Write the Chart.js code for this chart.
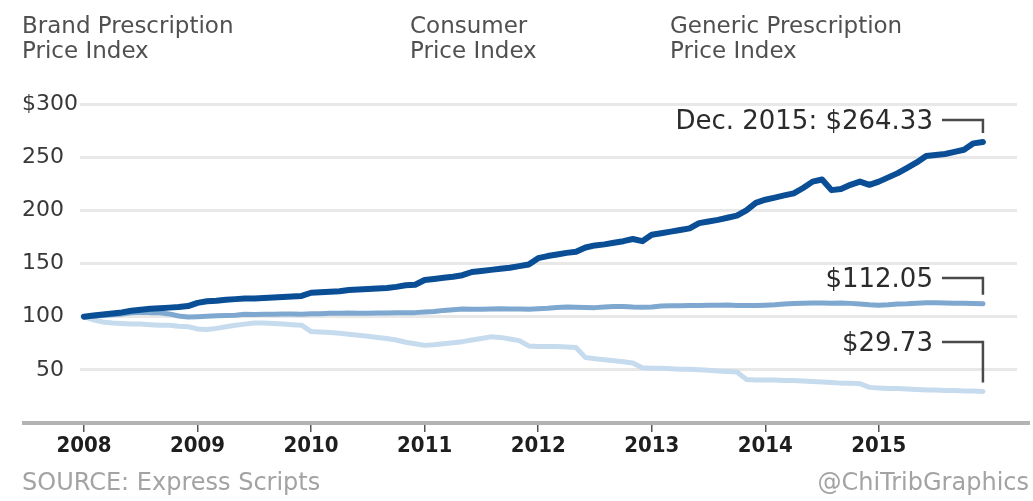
<!DOCTYPE html>
<html>
<head>
<meta charset="utf-8">
<script src="https://cdn.jsdelivr.net/npm/chart.js"></script>
<style>
  body { margin: 0; background: #fff; }
  .wrap { position: relative; width: 1033px; height: 501px; overflow: hidden; }
  .wrap canvas { position: absolute; left: 0; top: 0; }
  .head {
    position: absolute; top: 13px;
    font-family: 'DejaVu Sans', sans-serif; font-size: 23px; line-height: 25px;
    color: #505050; white-space: nowrap;
  }
  .foot {
    position: absolute; top: 468px;
    font-family: 'DejaVu Sans', sans-serif; font-size: 24px; line-height: 28px;
    color: #a3a3a3; white-space: nowrap;
  }
</style>
</head>
<body>
<div class="wrap">
  <canvas id="chart" width="1033" height="501"></canvas>
  <div class="head" style="left:22px">Brand Prescription<br>Price Index</div>
  <div class="head" style="left:410px">Consumer<br>Price Index</div>
  <div class="head" style="left:670px">Generic Prescription<br>Price Index</div>
  <div class="foot" style="left:22px">SOURCE: Express Scripts</div>
  <div class="foot" style="right:4px">@ChiTribGraphics</div>
</div>

<script>
// ==========================
// DATA (monthly, Jan 2008 = 100)
// ==========================
const years = ['2008', '2009', '2010', '2011', '2012', '2013', '2014', '2015'];

const brandIndex = [
  100, 101, 102, 103, 104, 105.5, 106.5, 107.5, 108, 108.5, 109, 110,
  113, 114.5, 115, 116, 116.5, 117, 117, 117.5, 118, 118.5, 119, 119.5,
  122.5, 123, 123.5, 124, 125, 125.5, 126, 126.5, 127, 128, 129.5, 130,
  134.5, 135.5, 136.5, 137.5, 139, 142, 143, 144, 145, 146, 147.5, 149,
  155, 157, 158.5, 160, 161, 165, 167, 168, 169.5, 171, 173, 171,
  177, 178.5, 180, 181.5, 183, 188, 189.5, 191, 193, 195, 200, 207,
  210, 212, 214, 216, 221, 227, 229, 219, 220, 224, 227, 224,
  227, 231, 235, 240, 245, 251, 252, 253, 255, 257, 263, 264.33
];

const cpiIndex = [
  100, 100.3, 101.2, 101.8, 102.6, 103.7, 104.2, 103.8, 103.7, 102.6, 100.6, 99.6,
  100, 100.5, 100.8, 101, 101.3, 102.2, 102, 102.3, 102.3, 102.4, 102.5, 102.3,
  102.7, 102.7, 103.1, 103.3, 103.4, 103.3, 103.3, 103.4, 103.5, 103.6, 103.7, 103.8,
  104.3, 104.8, 105.9, 106.6, 107.1, 106.9, 107, 107.3, 107.5, 107.3, 107.2, 106.9,
  107.4, 107.9, 108.7, 109, 108.9, 108.7, 108.5, 109.1, 109.6, 109.6, 109.1, 108.8,
  109.1, 110, 110.3, 110.2, 110.4, 110.6, 110.7, 110.8, 110.9, 110.6, 110.4, 110.4,
  110.8, 111.2, 111.9, 112.3, 112.7, 112.9, 112.9, 112.7, 112.8, 112.5, 111.9, 111.2,
  110.7, 111.2, 111.9, 112.1, 112.7, 113.1, 113.1, 112.9, 112.7, 112.7, 112.4, 112.05
];

const genericIndex = [
  100, 97, 95, 94, 93.5, 93, 93, 92.5, 92, 92, 91, 90.5,
  88.5, 88, 89, 90.5, 92, 93, 94, 94, 93.5, 93, 92.5, 92,
  86, 85.5, 85, 84.5, 83.5, 82.5, 81.5, 80.5, 79.5, 78, 76, 74.5,
  73, 73.5, 74.5, 75.5, 76.5, 78, 79.5, 81, 80.5, 79, 77.5, 72.5,
  72, 72, 72, 71.5, 71, 61.5, 60.5, 59.5, 58.5, 57.5, 56.5, 52,
  51.5, 51.5, 51, 50.5, 50.5, 50, 49.5, 49, 48.5, 48, 41, 40.5,
  40.5, 40.5, 40, 40, 39.5, 39, 38.5, 38, 37.5, 37.5, 37, 33.5,
  33, 32.5, 32.5, 32, 31.5, 31, 31, 30.5, 30.5, 30, 30, 29.73
];

const endLabels = ['Dec. 2015: $264.33', '$112.05', '$29.73'];

// month number -> point
const toPoints = (arr) => arr.map((v, i) => ({ x: i, y: v }));

// ==========================
// baseline + end-of-line notes
// ==========================
const endNotes = {
  id: 'endNotes',
  beforeDatasetsDraw(chart) {
    const { ctx } = chart;
    const y0 = chart.scales.y.getPixelForValue(0);
    ctx.save();
    ctx.strokeStyle = '#b3b3b3';
    ctx.lineWidth = 4;
    ctx.beginPath();
    ctx.moveTo(22, y0);
    ctx.lineTo(chart.width - 3, y0);
    ctx.stroke();
    ctx.restore();
  },
  afterDatasetsDraw(chart, args, opts) {
    const { ctx } = chart;
    const y = chart.scales.y;
    ctx.save();
    ctx.font = '26px "DejaVu Sans", sans-serif';
    ctx.fillStyle = '#2b2b2b';
    ctx.strokeStyle = '#4a4a4a';
    ctx.lineWidth = 2.5;
    ctx.textAlign = 'right';
    ctx.textBaseline = 'middle';
    chart.data.datasets.forEach((ds, i) => {
      const meta = chart.getDatasetMeta(i);
      const last = meta.data[meta.data.length - 1];
      const ly = y.getPixelForValue(opts.at[i]);
      ctx.fillText(endLabels[i], last.x - 50, ly);
      ctx.beginPath();
      ctx.moveTo(last.x - 41, ly - 2);
      ctx.lineTo(last.x, ly - 2);
      ctx.lineTo(last.x, last.y - 9);
      ctx.stroke();
    });
    ctx.restore();
  }
};

new Chart(document.getElementById('chart'), {
  type: 'line',
  data: {
    datasets: [
      { label: 'Brand Prescription Price Index', data: toPoints(brandIndex), borderColor: '#0a4e95', borderWidth: 6 },
      { label: 'Consumer Price Index', data: toPoints(cpiIndex), borderColor: '#7ea8cf', borderWidth: 5 },
      { label: 'Generic Prescription Price Index', data: toPoints(genericIndex), borderColor: '#c6dbee', borderWidth: 5 }
    ]
  },
  options: {
    responsive: false,
    animation: false,
    layout: { padding: { left: 22, top: 104, right: 16, bottom: 0 } },
    elements: {
      point: { radius: 0 },
      line: { tension: 0, borderJoinStyle: 'round', borderCapStyle: 'round' }
    },
    plugins: {
      legend: { display: false },
      tooltip: { enabled: false },
      endNotes: { at: [283, 134.5, 74.3] }
    },
    scales: {
      x: {
        type: 'linear',
        min: -0.42,
        max: 98.6,
        afterBuildTicks: (axis) => { axis.ticks = years.map((_, i) => ({ value: i * 12 })); },
        afterFit: (axis) => { axis.height = 78; },
        border: { display: false },
        grid: { drawOnChartArea: false, drawTicks: true, tickLength: 9, color: '#555', lineWidth: 1.5 },
        ticks: {
          callback: (v) => years[v / 12],
          maxRotation: 0,
          padding: 1,
          color: '#1e1e1e',
          font: { family: "'Liberation Sans Narrow', 'DejaVu Sans Condensed', sans-serif", size: 22, weight: 'bold' }
        }
      },
      y: {
        min: 0,
        max: 300,
        afterFit: (axis) => { axis.width = 58; },
        border: { display: false },
        grid: { color: '#e8e8e8', lineWidth: 3, drawTicks: false },
        ticks: {
          stepSize: 50,
          crossAlign: 'far',
          padding: 15,
          color: '#383838',
          font: { family: "'DejaVu Sans', sans-serif", size: 22 },
          callback: (v) => v === 0 ? null : v === 300 ? '$300' : v < 100 ? '\u2007' + v : '' + v
        }
      }
    }
  },
  plugins: [endNotes]
});
</script>
</body>
</html>
